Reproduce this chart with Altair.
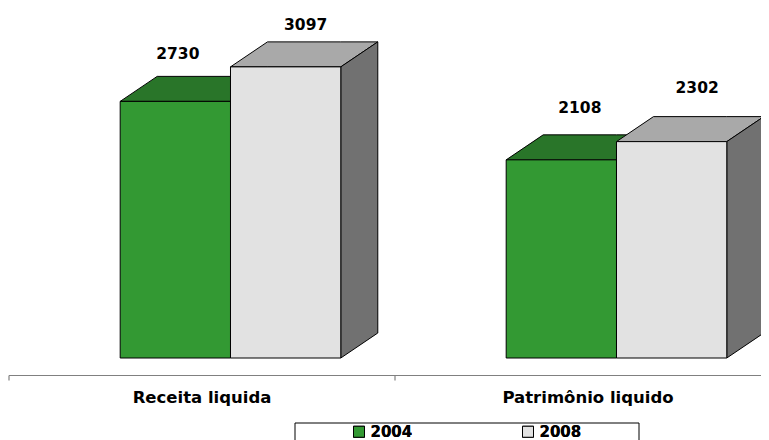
import altair as alt
import pandas as pd

categories = ["Receita liquida", "Patrimônio liquido"]
years = ["2004", "2008"]
values_2004 = [2730, 2108]
values_2008 = [3097, 2302]

FONT = "DejaVu Sans"
PX_X = 386.0          # pixels per category on the x scale
PX_Y = 0.094          # pixels per unit on the y scale
W, H = 753, 432
BASE = 350            # chart pixel of value 0
BAR = 110.3 / PX_X
DX = 37 / PX_X
DY = 25 / PX_Y
SHIFT = 0.5738
x_scale = alt.Scale(domain=[-1 / PX_X, (W - 1) / PX_X], nice=False, zero=False, padding=0)
y_scale = alt.Scale(domain=[-(H - BASE) / PX_Y, BASE / PX_Y], nice=False, zero=False, padding=0)
X = lambda f="x": alt.X(f"{f}:Q", scale=x_scale, axis=None)
Y = lambda f="y": alt.Y(f"{f}:Q", scale=y_scale, axis=None)

front, top, side = [], [], []
for year, series, off in ((years[0], values_2004, -1), (years[1], values_2008, 0)):
    for i, (cat, v) in enumerate(zip(categories, series)):
        x0 = i + SHIFT + off * BAR
        x1 = x0 + BAR
        key = f"{year}-{i}"
        front.append(dict(year=year, key=key, x=x0, x2=x1, y=0, y2=v))
        for xx, a, b in ((x0, v, v), (x0 + DX, v + DY, v), (x1, v + DY, v), (x1 + DX, v + DY, v + DY)):
            top.append(dict(year=year, key=key, x=xx, y=a, y2=b))
        for xx, a, b in ((x1, v, 0), (x1 + DX, v + DY, DY)):
            side.append(dict(year=year, key=key, x=xx, y=a, y2=b))
front, top, side = pd.DataFrame(front), pd.DataFrame(top), pd.DataFrame(side)

color = alt.Color(
    "year:N",
    scale=alt.Scale(domain=years, range=["#339933", "#E2E2E2"]),
    legend=alt.Legend(
        title=None, orient="none", legendX=343.5, legendY=416, direction="horizontal",
        columns=2, columnPadding=108, padding=0, symbolType="square", symbolSize=121,
        symbolStrokeColor="#000000", symbolStrokeWidth=1, symbolOpacity=1,
        labelFont=FONT, labelFontWeight="bold", labelFontSize=15, labelColor="#000000",
        labelOffset=4,
    ),
)
top_color = alt.Color("year:N", scale=alt.Scale(domain=years, range=["#297529", "#A9A9A9"]), legend=None)


def faces(year):
    t = alt.Chart(top[top.year == year]).mark_area(stroke="#000000", strokeWidth=1, opacity=1).encode(
        x=X(), y=Y(), y2="y2:Q", detail="key:N", color=top_color)
    f = alt.Chart(front[front.year == year]).mark_rect(stroke="#000000", strokeWidth=1).encode(
        x=X(), x2="x2:Q", y=Y(), y2="y2:Q", color=color)
    if year == years[0]:
        return [t, f]
    s = alt.Chart(side[side.year == year]).mark_area(stroke="#000000", strokeWidth=1, color="#717171", opacity=1).encode(
        x=X(), y=Y(), y2="y2:Q", detail="key:N")
    return [t, s, f]


# offsets of value labels from the bar's front-centre / top, in pixels
nudges = {("2004", 0): (2.5, 42), ("2008", 0): (20, 37), ("2004", 1): (18.5, 47), ("2008", 1): (25.5, 49)}
labels = []
for year, series, off in ((years[0], values_2004, -1), (years[1], values_2008, 0)):
    for i, v in enumerate(series):
        nx, ny = nudges[(year, i)]
        labels.append(dict(t=str(v), x=i + SHIFT + (off + 0.5) * BAR + nx / PX_X, y=v + ny / PX_Y))
value_text = alt.Chart(pd.DataFrame(labels)).mark_text(
    font=FONT, fontWeight="bold", fontSize=15.5, color="#000000", baseline="alphabetic", align="center"
).encode(x=X(), y=Y(), text="t:N")

cat_text = alt.Chart(pd.DataFrame({"t": categories, "x": [0.5, 1.5], "y": [-(403 - 358) / PX_Y] * 2})).mark_text(
    font=FONT, fontWeight="bold", fontSize=16.5, color="#000000", baseline="alphabetic", align="center"
).encode(x=X(), y=Y(), text="t:N")

AXIS_Y = -(375.5 - 358) / PX_Y
TICK = 5 / PX_Y
axis_line = alt.Chart(pd.DataFrame({"x": [0], "x2": [2], "y": [AXIS_Y]})).mark_rule(
    color="#808080", strokeWidth=1.2
).encode(x=X(), x2="x2:Q", y=Y())
axis_ticks = alt.Chart(pd.DataFrame({"x": [0, 1, 2], "y": [AXIS_Y] * 3, "y2": [AXIS_Y - TICK] * 3})).mark_rule(
    color="#808080", strokeWidth=1.2
).encode(x=X(), y=Y(), y2="y2:Q")

box = alt.Chart(pd.DataFrame({"x": [286 / PX_X], "x2": [630 / PX_X],
                              "y": [-(415 - BASE) / PX_Y], "y2": [-(460 - BASE) / PX_Y]})).mark_rect(
    fill="#ffffff", stroke="#000000", strokeWidth=1
).encode(x=X(), x2="x2:Q", y=Y(), y2="y2:Q")

chart = alt.layer(axis_line, axis_ticks, box, *faces(years[0]), *faces(years[1]), value_text, cat_text).resolve_scale(
    color="independent"
).properties(
    width=W, height=H, padding=0, autosize=alt.AutoSizeParams(type="none"), background="#ffffff"
).configure_view(stroke=None)

chart.save("out.html", embed_options={"renderer": "svg", "actions": False})
